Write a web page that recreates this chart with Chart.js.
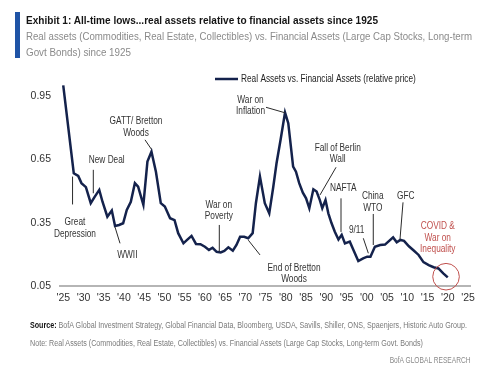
<!DOCTYPE html>
<html><head><meta charset="utf-8">
<script src="https://cdn.jsdelivr.net/npm/chart.js@4.4.1/dist/chart.umd.min.js"></script>
<style>
html,body{margin:0;padding:0;background:#fff;width:500px;height:378px;overflow:hidden;font-family:"Liberation Sans",Arial,sans-serif;}
#wrap{position:relative;width:500px;height:378px;}
canvas{position:absolute;left:0;top:0;}
.t{position:absolute;white-space:nowrap;}
.fit{display:inline-block;transform-origin:0 50%;}
.fitr{display:inline-block;transform-origin:100% 50%;}
#bar{position:absolute;left:15px;top:12px;width:5px;height:46px;background:#1f54a6;}
</style></head>
<body><div id="wrap">
<canvas id="c" width="500" height="378"></canvas>
<div id="bar"></div>
<div class="t" style="left:26px;top:13px;font-size:11.5px;line-height:15px;font-weight:bold;color:#151515;"><span class="fit" data-w="352">Exhibit 1: All-time lows...real assets relative to financial assets since 1925</span></div>
<div class="t" style="left:26px;top:28.5px;font-size:11.5px;line-height:15px;color:#8a8a8a;"><span class="fit" data-w="446">Real assets (Commodities, Real Estate, Collectibles) vs. Financial Assets (Large Cap Stocks, Long-term</span></div>
<div class="t" style="left:26px;top:44.5px;font-size:11.5px;line-height:15px;color:#8a8a8a;"><span class="fit" data-w="105">Govt Bonds) since 1925</span></div>
<div class="t" style="left:30px;top:320px;font-size:8.5px;line-height:10px;color:#7a7a7a;"><span class="fit" data-w="437"><b style="color:#111">Source:</b> BofA Global Investment Strategy, Global Financial Data, Bloomberg, USDA, Savills, Shiller, ONS, Spaenjers, Historic Auto Group.</span></div>
<div class="t" style="left:30px;top:337.5px;font-size:8.5px;line-height:10px;color:#7a7a7a;"><span class="fit" data-w="393">Note: Real Assets (Commodities, Real Estate, Collectibles) vs. Financial Assets (Large Cap Stocks, Long-term Govt. Bonds)</span></div>
<div class="t" style="right:29px;top:354.5px;font-size:8.5px;line-height:10px;color:#8a8a8a;"><span class="fitr" data-w="81">BofA GLOBAL RESEARCH</span></div>
</div>
<script>
// ---- data ----
const seriesLabel = "Real Assets vs. Financial Assets (relative price)";
const years = [1925, 1927.6, 1928.7, 1929.5, 1930.6, 1931.8, 1932.8, 1933.9, 1934.7, 1935.9,
  1937.0, 1937.8, 1938.8, 1939.8, 1940.7, 1941.7, 1942.7, 1943.5, 1944.8, 1945.8,
  1946.8, 1947.9, 1949.1, 1950.1, 1951.4, 1952.5, 1953.4, 1954.7, 1955.6, 1956.7,
  1957.8, 1958.9, 1960.0, 1961.0, 1961.9, 1962.9, 1963.9, 1964.8, 1965.8, 1966.9,
  1967.8, 1968.7, 1969.7, 1970.7, 1971.8, 1972.6, 1973.6, 1974.8, 1975.9, 1976.9,
  1977.7, 1978.7, 1979.8, 1980.6, 1981.8, 1982.5, 1983.3, 1984.2, 1985.0, 1985.8,
  1986.8, 1987.6, 1988.4, 1989.0, 1989.8, 1990.5, 1991.3, 1992.1, 1993.0, 1993.8,
  1994.6, 1995.8, 1996.7, 1997.9, 1999.1, 2000.1, 2000.9, 2002.0, 2003.3, 2004.5,
  2006.5, 2007.4, 2008.3, 2009.2, 2010.4, 2011.6, 2012.8, 2014.0, 2015.3, 2016.5,
  2017.7, 2018.9, 2020.0];
const relativePrice = [1.00, 0.584, 0.571, 0.537, 0.518, 0.442, 0.473, 0.505, 0.449, 0.378,
  0.407, 0.334, 0.339, 0.347, 0.410, 0.449, 0.537, 0.520, 0.434, 0.639,
  0.686, 0.591, 0.442, 0.426, 0.371, 0.362, 0.300, 0.252, 0.268, 0.287,
  0.249, 0.248, 0.236, 0.221, 0.231, 0.212, 0.209, 0.216, 0.233, 0.217,
  0.244, 0.283, 0.283, 0.276, 0.300, 0.442, 0.568, 0.442, 0.394, 0.520,
  0.631, 0.742, 0.871, 0.821, 0.615, 0.591, 0.537, 0.492, 0.465, 0.418,
  0.508, 0.497, 0.457, 0.418, 0.457, 0.394, 0.347, 0.307, 0.270, 0.292,
  0.252, 0.260, 0.220, 0.168, 0.181, 0.189, 0.189, 0.236, 0.244, 0.246,
  0.280, 0.257, 0.268, 0.264, 0.238, 0.218, 0.197, 0.163, 0.149, 0.139,
  0.133, 0.110, 0.091];
const xTickYears = [1925,1930,1935,1940,1945,1950,1955,1960,1965,1970,1975,1980,1985,1990,1995,2000,2005,2010,2015,2020,2025];
const yTickValues = [0.05, 0.35, 0.65, 0.95];

// annotations: text anchor (x,y) in data units, leader line in data units
const annotations = [
  {lines:["Great","Depression"], x:1927.9, y:0.350, leader:[1927.3,0.568,1927.3,0.436]},
  {lines:["New Deal"], x:1935.74, y:0.647, leader:[1932.43,0.600,1932.43,0.489]},
  {lines:["GATT/ Bretton","Woods"], x:1942.98, y:0.828, leader:[1945.2,0.742,1946.8,0.697]},
  {lines:["WWII"], x:1940.83, y:0.197, leader:[1937.79,0.329,1939.03,0.252]},
  {lines:["War on","Poverty"], x:1963.44, y:0.434, leader:[1963.56,0.339,1963.56,0.213]},
  {lines:["War on","Inflation"], x:1971.27, y:0.931, leader:[1975.1,0.896,1979.8,0.870]},
  {lines:["End of Bretton","Woods"], x:1982.02, y:0.134, leader:[1970.73,0.267,1973.62,0.197]},
  {lines:["Fall of Berlin","Wall"], x:1992.82, y:0.702, leader:[1992.4,0.612,1988.44,0.481]},
  {lines:["NAFTA"], x:1994.2, y:0.513, leader:[1993.63,0.465,1993.63,0.306]},
  {lines:["9/11"], x:1997.5, y:0.312, leader:[1999.14,0.276,2000.38,0.205]},
  {lines:["China","WTO"], x:2001.47, y:0.473, leader:[2001.6,0.391,2001.6,0.244]},
  {lines:["GFC"], x:2009.62, y:0.476, leader:[2008.95,0.446,2008.2,0.270]},
  {lines:["COVID &","War on","Inequality"], x:2017.53, y:0.331, color:"#c0504d", circle:[2019.58,0.094]}
];

const LINE_COLOR = "#14224c";
const TXT = "#333333";
const SX = 0.83;

function drawText(ctx, s, x, y, font, color, align){
  ctx.save();
  ctx.font = font; ctx.fillStyle = color; ctx.textBaseline = "middle";
  ctx.translate(x, y); ctx.scale(SX, 1);
  ctx.textAlign = align || "center";
  ctx.fillText(s, 0, 0);
  ctx.restore();
}

const annotPlugin = {
  id: "annot",
  afterDatasetsDraw(chart){
    const ctx = chart.ctx, xs = chart.scales.x, ys = chart.scales.y;
    const font = '10px "Liberation Sans", Arial, sans-serif';
    annotations.forEach(a => {
      const col = a.color || TXT;
      const px = xs.getPixelForValue(a.x), py = ys.getPixelForValue(a.y);
      a.lines.forEach((s, i) => drawText(ctx, s, px, py + i*11.2, font, col));
      if (a.leader){
        const [x1,y1,x2,y2] = a.leader;
        ctx.save(); ctx.strokeStyle = "#2a2a2a"; ctx.lineWidth = 1;
        ctx.beginPath();
        ctx.moveTo(xs.getPixelForValue(x1), ys.getPixelForValue(y1));
        ctx.lineTo(xs.getPixelForValue(x2), ys.getPixelForValue(y2));
        ctx.stroke(); ctx.restore();
      }
      if (a.circle){
        ctx.save(); ctx.strokeStyle = col; ctx.lineWidth = 1;
        ctx.beginPath();
        ctx.arc(xs.getPixelForValue(a.circle[0]), ys.getPixelForValue(a.circle[1]), 13.3, 0, Math.PI*2);
        ctx.stroke(); ctx.restore();
      }
    });
    // legend
    const ds = chart.data.datasets[0];
    const lx = chart.chartArea.left + 155, ly = chart.chartArea.top;
    ctx.save(); ctx.strokeStyle = ds.borderColor; ctx.lineWidth = 2.5;
    ctx.beginPath(); ctx.moveTo(lx, ly); ctx.lineTo(lx + 23, ly); ctx.stroke(); ctx.restore();
    drawText(ctx, ds.label, lx + 26, ly, font, "#222", "left");
  }
};

new Chart(document.getElementById("c"), {
  type: "line",
  data: {
    datasets: [{
      label: seriesLabel,
      data: years.map((yr, i) => ({x: yr, y: relativePrice[i]})),
      borderColor: LINE_COLOR,
      borderWidth: 2.5,
      pointRadius: 0,
      tension: 0,
      fill: false
    }]
  },
  options: {
    responsive: false,
    animation: false,
    devicePixelRatio: 1,
    layout: {padding: {top: 79, right: 30, left: 0, bottom: 0}},
    plugins: {legend: {display: false}, tooltip: {enabled: false}},
    scales: {
      x: {
        type: "linear", min: 1924.2, max: 2025.5,
        afterBuildTicks: s => { s.ticks = xTickYears.map(v => ({value: v})); },
        afterFit: s => { s.height = 92; },
        grid: {display: false, drawTicks: false},
        border: {display: true, color: "#b5b5b5", width: 2},
        ticks: {
          padding: 6, color: "#333", maxRotation: 0, autoSkip: false,
          font: {family: '"Liberation Sans Narrow", "Liberation Sans", Arial', size: 10.5},
          callback: v => "'" + String(v).slice(2)
        }
      },
      y: {
        type: "linear", min: 0.05, max: 1.03,
        afterBuildTicks: s => { s.ticks = yTickValues.map(v => ({value: v})); },
        afterFit: s => { s.width = 60; },
        grid: {display: false, drawTicks: false},
        border: {display: false},
        ticks: {
          padding: 9, color: "#333",
          font: {family: '"Liberation Sans Narrow", "Liberation Sans", Arial', size: 10.5},
          callback: v => Number(v).toFixed(2)
        }
      }
    }
  },
  plugins: [annotPlugin]
});

document.querySelectorAll(".fit,.fitr").forEach(el => {
  const w = parseFloat(el.dataset.w);
  const nat = el.getBoundingClientRect().width;
  if (nat > 0) el.style.transform = "scaleX(" + (w / nat) + ")";
});
</script>
</body></html>
